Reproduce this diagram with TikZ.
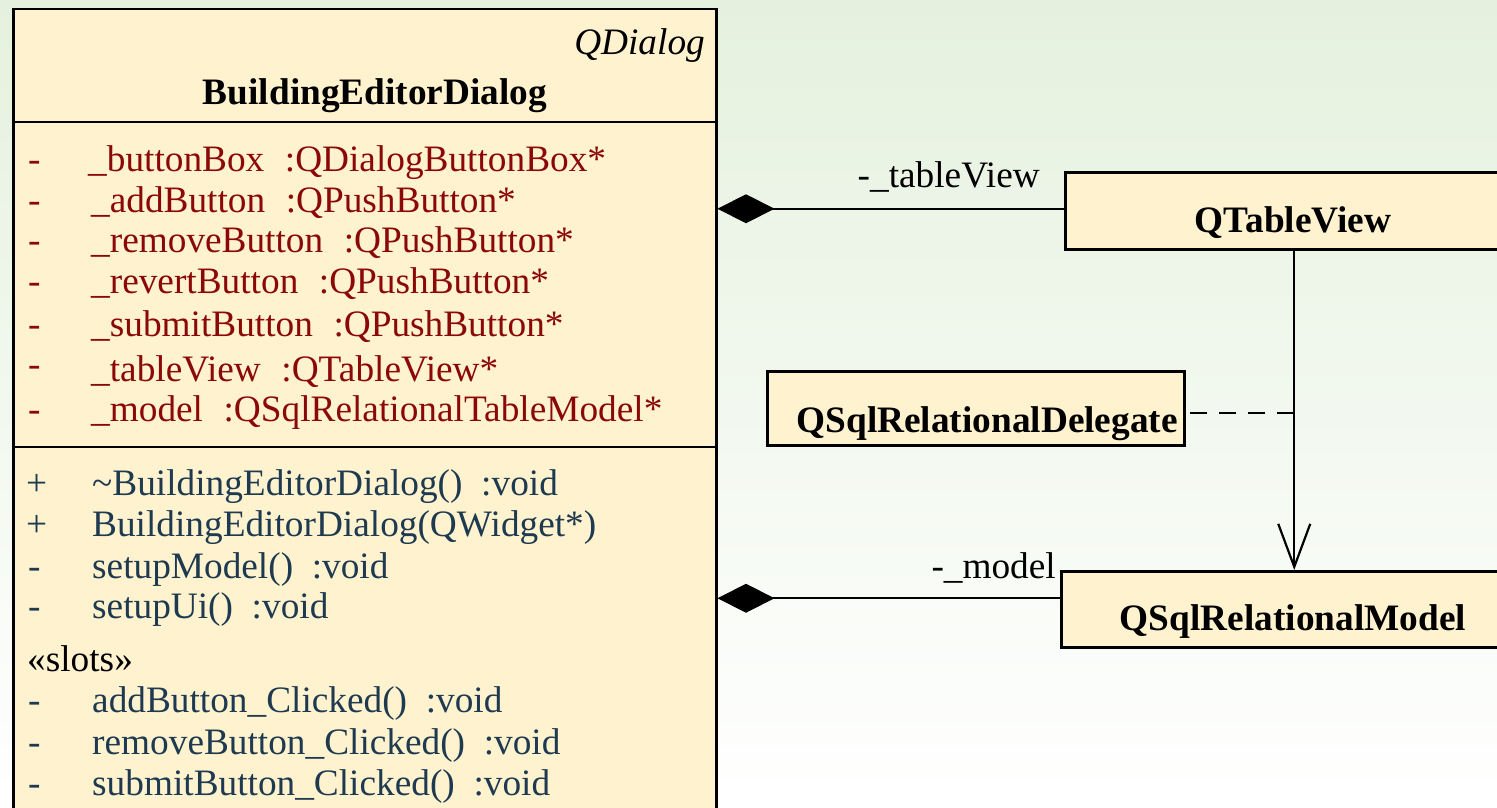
\documentclass[tikz,border=0pt]{standalone}
\usepackage{fontspec}
\setmainfont{Liberation Serif}
\usetikzlibrary{arrows.meta}
\definecolor{bgtop}{RGB}{229,241,222}
\definecolor{boxfill}{RGB}{255,242,206}
\definecolor{attrred}{RGB}{139,8,8}
\definecolor{opblue}{RGB}{30,58,80}
\newcommand{\typesep}{\hspace{0.55em}}
\newcommand{\retsep}{\hspace{0.5em}}
\tikzset{
  classbox/.style={draw=black, line width=2.5pt, fill=boxfill, rectangle,
    inner sep=0pt, anchor=north west},
  umltext/.style={inner sep=0pt, anchor=base west, font=\fontsize{37.3}{45}\selectfont},
  attr/.style={umltext, text=attrred},
  oper/.style={umltext, text=opblue},
  plain/.style={umltext, text=black},
  cname/.style={inner sep=0pt, anchor=base, font=\fontsize{37.3}{45}\selectfont\bfseries},
  comp/.style={line width=2pt, {Diamond[length=57pt,width=29pt,fill=black]}-},
  gen/.style={line width=2.2pt, -{Straight Barb[length=43pt,width=32pt]}},
  dep/.style={line width=2.2pt, dash pattern=on 17pt off 12pt},
}
\begin{document}
\begin{tikzpicture}[x=1pt,y=-1pt]
\useasboundingbox (0,0) rectangle (1497,808);
\clip (0,0) rectangle (1497,808);
% background
\shade[top color=bgtop, bottom color=white] (0,0) rectangle (1497,808);

% main class
\node[classbox, minimum width=703pt, minimum height=840pt] (bed) at (12,8) {};
\draw[line width=2.5pt] (12,122) -- (715,122);
\draw[line width=2.5pt] (12,447) -- (718,447);
\node[umltext, anchor=base east, font=\fontsize{37.3}{45}\selectfont\itshape] (bedstereo) at (705,55) {QDialog};
\node[cname] (bedname) at (375,104) {BuildingEditorDialog};

% attributes
\node[attr] (ad1) at (28,171) {-};
\node[attr] (a1) at (88,171) {\_buttonBox\typesep:QDialogButtonBox*};
\node[attr] (ad2) at (28,212) {-};
\node[attr] (a2) at (91,212) {\_addButton\typesep:QPushButton*};
\node[attr] (ad3) at (28,252) {-};
\node[attr] (a3) at (91,252) {\_removeButton\typesep:QPushButton*};
\node[attr] (ad4) at (28,293) {-};
\node[attr] (a4) at (91,293) {\_revertButton\typesep:QPushButton*};
\node[attr] (ad5) at (28,336) {-};
\node[attr] (a5) at (91,336) {\_submitButton\typesep:QPushButton*};
\node[attr] (ad6) at (28,376) {-};
\node[attr] (a6) at (91,381) {\_tableView\typesep:QTableView*};
\node[attr] (ad7) at (28,421) {-};
\node[attr] (a7) at (91,421) {\_model\typesep:QSqlRelationalTableModel*};

% operations
\node[oper] (od1) at (26,495) {+};
\node[oper] (o1) at (92,495) {\textasciitilde BuildingEditorDialog()\retsep:void};
\node[oper] (od2) at (26,536) {+};
\node[oper] (o2) at (92,536) {BuildingEditorDialog(QWidget*)};
\node[oper] (od3) at (28,578) {-};
\node[oper] (o3) at (92,578) {setupModel()\retsep:void};
\node[oper] (od4) at (28,618) {-};
\node[oper] (o4) at (92,618) {setupUi()\retsep:void};
\node[plain] (slots) at (27,671) {«slots»};
\node[oper] (od5) at (28,712) {-};
\node[oper] (o5) at (92,712) {addButton\_Clicked()\retsep:void};
\node[oper] (od6) at (28,754) {-};
\node[oper] (o6) at (92,754) {removeButton\_Clicked()\retsep:void};
\node[oper] (od7) at (28,795) {-};
\node[oper] (o7) at (92,795) {submitButton\_Clicked()\retsep:void};

% other classes
\node[classbox, minimum width=458pt, minimum height=77pt] (tv) at (1064,171) {};
\node[cname] (tvname) at (1293,232) {QTableView};
\node[classbox, minimum width=417pt, minimum height=74pt] (del) at (766,370) {};
\node[cname, anchor=base east] (delname) at (1178,432) {QSqlRelationalDelegate};
\node[classbox, minimum width=466pt, minimum height=76pt] (sm) at (1060,570) {};
\node[cname] (smname) at (1293,630) {QSqlRelationalModel};

% relations
\draw[comp] ([yshift=2pt]tv.west -| bed.east) -- ([yshift=2pt]tv.west);
\node[plain, anchor=base east] (tvrole) at (1040,187) {-\_tableView};
\draw[comp] ([yshift=11pt]sm.west -| bed.east) -- ([yshift=11pt]sm.west);
\node[plain, anchor=base east] (smrole) at (1056,578) {-\_model};
\draw[gen] (tv.south) -- (sm.north);
\coordinate (junc) at ([yshift=-5pt]del.east -| tv.south);
\draw[dep] (junc) -- ([yshift=-5pt]del.east);
\end{tikzpicture}
\end{document}
